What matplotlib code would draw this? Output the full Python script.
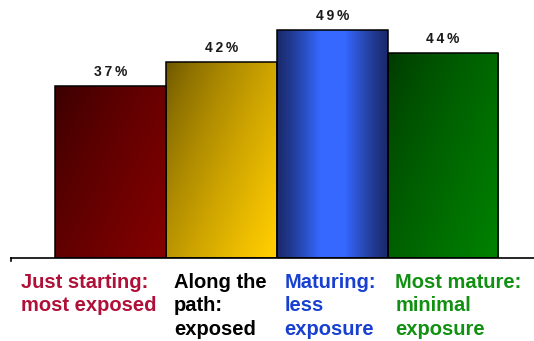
import numpy as np
import matplotlib
matplotlib.use("Agg")
import matplotlib.pyplot as plt
from matplotlib.colors import to_rgb

plt.rcParams["font.family"] = ["Liberation Sans", "DejaVu Sans"]

# stage labels, share values and colours
stages = ["Just starting:\nmost exposed", "Along the\npath:\nexposed",
          "Maturing:\nless\nexposure", "Most mature:\nminimal\nexposure"]
shares = [37, 42, 49, 44]
label_colors = ["#b01038", "#000000", "#1840d0", "#119011"]
# (dark, light) ends of each bar gradient
bar_dark = ["#380000", "#6a5400", "#1a2a6c", "#003800"]
bar_light = ["#820000", "#ffcc00", "#3668ff", "#008000"]
bar_mode = ["diag", "diag", "center", "diag"]
# left edge of each stage label, in bar units
label_x = [-0.31, 1.07, 2.07, 3.07]

W, H = 534, 341
fig = plt.figure(figsize=(W / 100, H / 100), dpi=100)
ax = fig.add_axes([11 / W, (H - 257.7) / H, (W - 11) / W, 255.7 / H])
ax.set_xlim(-0.402, 4.323)
ax.set_ylim(0, 55)


def gradient(dark, light, mode, n=200):
    u = np.linspace(0, 1, n)[None, :]
    v = np.linspace(0, 1, n)[:, None]  # 0 at top of bar
    if mode == "center":
        t = 1 - np.abs(u - 0.5) * 2
        t = np.clip(t * 1.3, 0, 1) ** 1.2
        t = np.repeat(t, n, axis=0)
    else:
        t = np.clip(0.6 * u + 0.45 * v, 0, 1) ** 0.75
    c0 = np.array(to_rgb(dark))
    c1 = np.array(to_rgb(light))
    return c0 + (c1 - c0) * t[..., None]


bars = ax.bar(range(len(shares)), shares, width=1.0, align="edge",
              facecolor="none", edgecolor="black", linewidth=1.1, zorder=3)
for i, (b, val) in enumerate(zip(bars, shares)):
    img = ax.imshow(gradient(bar_dark[i], bar_light[i], bar_mode[i]),
                    extent=(i, i + 1, 0, val), aspect="auto",
                    origin="upper", zorder=2, interpolation="bilinear")
    img.set_clip_path(b)
    # spaced-out value label above the bar
    ax.text(i + 0.5, val + 3.0, "\u2009".join(f"{val}%"), ha="center",
            va="center", fontsize=10, fontweight="bold", color="#1a1a1a")

for i, (name, col) in enumerate(zip(stages, label_colors)):
    ax.text(label_x[i], -3.2, name, ha="left", va="top", fontsize=14.5,
            fontweight="bold", color=col, linespacing=1.3)

for s in ["top", "right", "left"]:
    ax.spines[s].set_visible(False)
ax.spines["bottom"].set_linewidth(1.2)
ax.plot([0, 0], [0, -0.7], transform=ax.get_yaxis_transform(),
        color="black", lw=1.2, clip_on=False)
ax.set_xticks([])
ax.set_yticks([])

fig.savefig("out.png", dpi=100)
